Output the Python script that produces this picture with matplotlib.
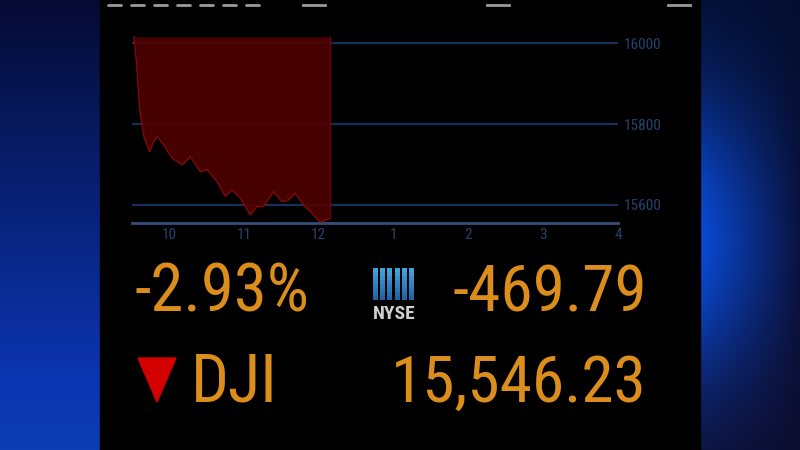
import matplotlib
matplotlib.use('Agg')
import matplotlib.pyplot as plt
import numpy as np
from matplotlib.patches import Rectangle, Polygon

# Dow Jones intraday (hours, 9.5 = 9:30 am)
horas = [9.53, 9.56, 9.59, 9.613, 9.663, 9.737, 9.79, 9.84, 9.929, 10.04, 10.173, 10.284,
         10.417, 10.507, 10.64, 10.751, 10.84, 10.951, 11.084, 11.173, 11.263, 11.396,
         11.507, 11.596, 11.684, 11.796, 11.907, 12.017, 12.151]
precios = [16016, 15960, 15880, 15827, 15769, 15732, 15755, 15770, 15748, 15716, 15699, 15719,
           15682, 15688, 15658, 15621, 15637, 15617, 15575, 15596, 15596, 15633,
           15608, 15612, 15629, 15600, 15580, 15557, 15567]
cierre_anterior = 16016.02

ticks_y = [15600, 15800, 16000]
ticks_x = [10, 11, 12, 13, 14, 15, 16]
etiquetas_x = ['10', '11', '12', '1', '2', '3', '4']

cambio_pct = '-2.93%'
cambio_pts = '-469.79'
indice = 'DJI'
ultimo = '15,546.23'

naranja = '#dc8e1c'
azul_texto = '#27426e'
azul_grid = '#17305a'
fuente = ['Roboto Condensed', 'Archivo Narrow', 'Liberation Sans', 'DejaVu Sans']

fig = plt.figure(figsize=(8, 4.5), dpi=100)

# fondo: coordenadas en pixeles
bg = fig.add_axes([0, 0, 1, 1])
bg.set_xlim(0, 800)
bg.set_ylim(450, 0)
bg.axis('off')

yy, xx = np.mgrid[0:450, 0:800]
# degradado azul de los lados
r = 0.02 + 0.03 * (yy / 450)
g = 0.04 + 0.20 * (yy / 450)
b = 0.20 + 0.50 * np.clip(yy / 380, 0, 1)
der = xx > 700
brillo = np.exp(-((yy - 240) / 150.0) ** 2) * np.clip(1 - (xx - 700) / 110.0, 0, 1)
g = np.where(der, 0.05 + 0.24 * brillo, g)
b = np.where(der, 0.18 + 0.65 * brillo, b)
img = np.dstack([r, g, b])
bg.imshow(img, extent=(0, 800, 450, 0), aspect='auto', zorder=0)
bg.add_patch(Rectangle((100, 0), 600, 450, color='black', zorder=1))

# marcas superiores
for x0 in [108, 131, 154, 177, 200, 223, 246]:
    bg.plot([x0, x0 + 13], [5, 5], color='#9a9a9a', lw=2, solid_capstyle='round', zorder=2)
for x0 in [303, 487, 668]:
    bg.plot([x0, x0 + 22], [5, 5], color='#9a9a9a', lw=2, zorder=2)

# textos
kw = dict(color=naranja, family=fuente, va='baseline', zorder=3)
bg.text(134, 312, cambio_pct, ha='left', fontsize=48, **kw)
bg.text(647, 311, cambio_pts, ha='right', fontsize=47, **kw)
bg.text(191, 402, indice, ha='left', fontsize=48, **kw)
bg.text(647, 402, ultimo, ha='right', fontsize=47, **kw)
bg.add_patch(Polygon([[138, 358], [176, 358], [157, 402]], closed=True, color='#d40000', zorder=3))

# logo NYSE
for i in range(6):
    x0 = 373 + i * 7.2
    for j in range(8):
        c = (0.26 - 0.02 * j, 0.64 - 0.035 * j, 0.86 - 0.03 * j)
        bg.add_patch(Rectangle((x0, 268 + j * 4), 5, 4, color=c, lw=0, zorder=3))
bg.text(394, 319, 'NYSE', color='#d0d0d0', fontsize=14, fontweight='bold', family=fuente,
        ha='center', va='baseline', zorder=3)

# grafico
ax = fig.add_axes([131.7 / 800, 1 - 222.7 / 450, (618 - 131.7) / 800, (222.7 - 35) / 450])
ax.set_facecolor('none')
ax.set_xlim(9.5, 16)
ax.set_ylim(15556, 16020.5)
for v in ticks_y:
    ax.axhline(v, color=azul_grid, lw=1.6, zorder=1)
ax.fill_between(horas, precios, cierre_anterior, color='#520000', alpha=0.88, lw=0, zorder=2)
ax.plot(horas, precios, color='#800a0a', lw=1, zorder=3)
ax.plot([horas[-1], horas[-1]], [precios[-1], cierre_anterior], color='#6a0505', lw=1, zorder=3)

for s in ['top', 'left', 'right']:
    ax.spines[s].set_visible(False)
ax.spines['bottom'].set_color('#34507a')
ax.spines['bottom'].set_linewidth(2)
ax.yaxis.tick_right()
ax.set_yticks(ticks_y)
ax.set_yticklabels([str(v) for v in ticks_y], family=fuente, fontsize=11, color=azul_texto)
ax.set_xticks(ticks_x)
ax.set_xticklabels(etiquetas_x, family=fuente, fontsize=11, color=azul_texto)
ax.tick_params(length=0, pad=4)

fig.savefig('out.png', dpi=100, facecolor='black')
